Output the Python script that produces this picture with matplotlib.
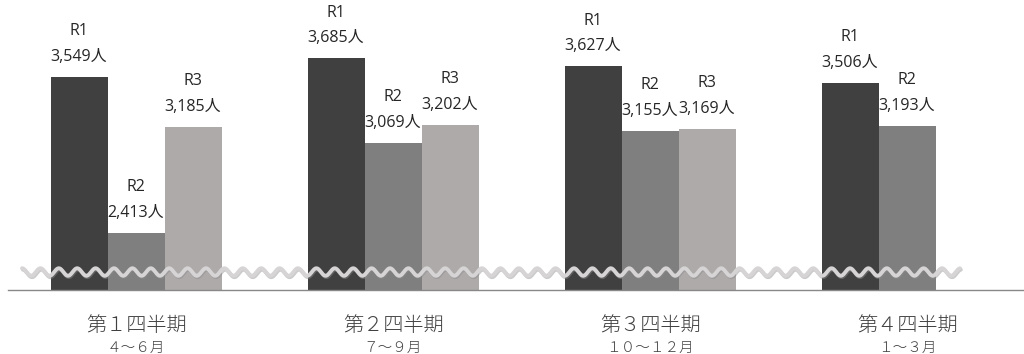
import matplotlib
matplotlib.use("Agg")
import matplotlib.pyplot as plt
import matplotlib.patheffects as pe
import numpy as np

# data
quarters = ["第１四半期", "第２四半期", "第３四半期", "第４四半期"]
months = ["４～６月", "７～９月", "１０～１２月", "１～３月"]
series = ["R1", "R2", "R3"]
r1 = [3549, 3685, 3627, 3506]
r2 = [2413, 3069, 3155, 3193]
r3 = [3185, 3202, 3169, None]
colors = ["#404040", "#7f7f7f", "#aeaaaa"]

plt.rcParams["font.family"] = ["Noto Sans CJK JP", "DejaVu Sans"]
label_font = ["Open Sans", "Noto Sans CJK JP"]

fig = plt.figure(figsize=(10.24, 3.54), dpi=100)
ax = fig.add_axes([8 / 1024, 64 / 354, 1016 / 1024, 290 / 354])

width = 57 / 257
x = np.arange(len(quarters))

for k, (name, vals) in enumerate(zip(series, [r1, r2, r3])):
    for i, v in enumerate(vals):
        if v is None:
            continue
        xi = x[i] + (k - 1) * width
        ax.bar(xi, v - 2000, bottom=2000, width=width, color=colors[k], zorder=2)
        ax.annotate(f"{v:,}人", (xi, v), xytext=(0, 14.5), textcoords="offset points",
                    ha="center", va="center", fontsize=11.5, color="#262626",
                    family=label_font)
        ax.annotate(name, (xi, v), xytext=(0, 33), textcoords="offset points",
                    ha="center", va="center", fontsize=11.5, color="#262626",
                    family=label_font)

# category labels under the axis
for i in x:
    ax.annotate(quarters[i], (i, 0), xycoords=("data", "axes fraction"),
                xytext=(0, -25.5), textcoords="offset points",
                ha="center", va="center", fontsize=14.5, color="#404040",
                fontweight="light")
    ax.annotate(months[i], (i, 0), xycoords=("data", "axes fraction"),
                xytext=(0, -42), textcoords="offset points",
                ha="center", va="center", fontsize=10.5, color="#404040",
                fontweight="light")

# wavy break mark
wx0, wx1 = 14 / 1016, 952 / 1016
t = np.linspace(wx0, wx1, 2000)
period = 18.4 / 1016
wy = 0.062 + 0.013 * np.cos(2 * np.pi * (t - wx0) / period)
ax.plot(t, wy, transform=ax.transAxes, color="#d6d4d4", lw=2.8, zorder=5,
        solid_capstyle="round",
        path_effects=[pe.SimpleLineShadow(offset=(0.6, -1.0), shadow_color="#8c8c8c", alpha=0.45),
                      pe.Normal()])

ax.set_xlim(-(136 - 8) / 257, (1024 - 136) / 257)
ax.set_ylim(2000, 4110)
for s in ["top", "left", "right"]:
    ax.spines[s].set_visible(False)
ax.spines["bottom"].set_color("#888888")
ax.spines["bottom"].set_linewidth(1)
ax.set_xticks([])
ax.set_yticks([])

fig.savefig("out.png", dpi=100)
